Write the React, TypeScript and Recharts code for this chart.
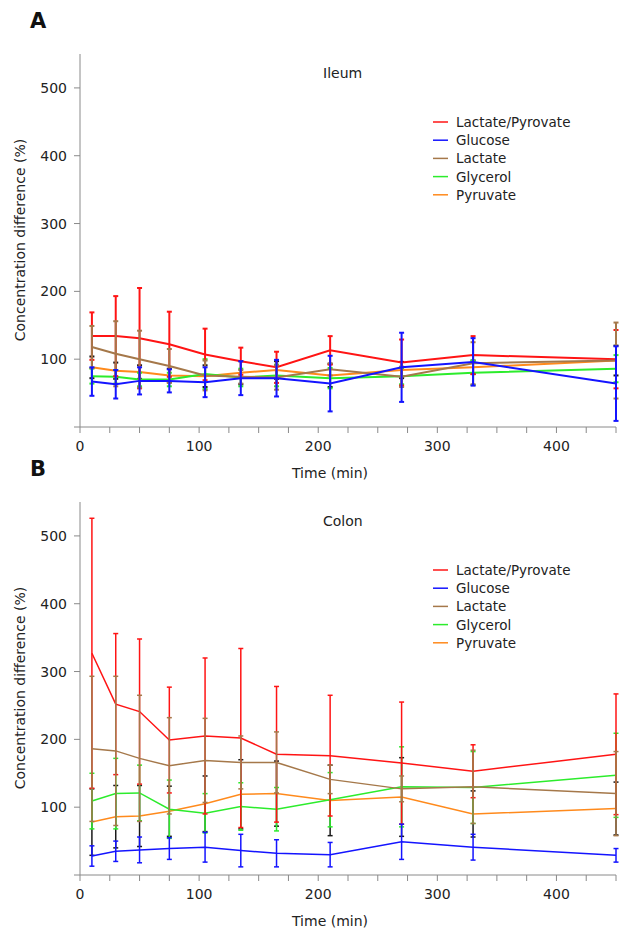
import React from 'react';
import { LineChart, Line, XAxis, YAxis, ErrorBar } from 'recharts';

// ---- data ----
const TIME = [10, 30, 50, 75, 105, 135, 165, 210, 270, 330, 450];

const ILEUM_LP = [134, 134, 131, 122, 107, 97, 88, 113, 95, 106, 100];
const ILEUM_LP_ERR = [35, 59, 74, 48, 38, 20, 23, 21, 34, 28, 43];
const ILEUM_GLC = [67, 63, 68, 68, 66, 72, 72, 64, 88, 96, 64];
const ILEUM_GLC_ERR = [21, 21, 20, 17, 22, 25, 27, 41, 51, 35, 55];
const ILEUM_LAC = [118, 108, 100, 90, 76, 74, 73, 85, 74, 94, 98];
const ILEUM_LAC_ERR = [31, 48, 42, 25, 22, 10, 18, 9, 15, 31, 56];
const ILEUM_GLY = [75, 74, 70, 70, 78, 73, 76, 72, 75, 80, 86];
const ILEUM_GLY_ERR = [11, 10, 10, 10, 22, 13, 16, 15, 12, 18, 20];
const ILEUM_PYR = [88, 83, 81, 76, 75, 80, 84, 76, 84, 88, 98];
const ILEUM_PYR_ERR = [16, 12, 10, 10, 16, 17, 13, 17, 12, 10, 22];

const COLON_LP = [327, 252, 241, 199, 205, 202, 178, 176, 165, 153, 178];
const COLON_LP_ERR = [199, 104, 107, 78, 115, 132, 100, 89, 90, 39, 89];
const COLON_GLC = [28, 35, 37, 39, 41, 36, 32, 30, 49, 41, 29];
const COLON_GLC_ERR = [15, 15, 19, 16, 22, 24, 20, 18, 26, 19, 10];
const COLON_LAC = [186, 183, 172, 161, 169, 166, 166, 141, 127, 130, 120];
const COLON_LAC_ERR = [107, 110, 93, 71, 62, 39, 45, 21, 19, 54, 62];
const COLON_GLY = [109, 120, 121, 97, 91, 101, 97, 111, 130, 129, 147];
const COLON_GLY_ERR = [41, 52, 41, 43, 29, 35, 32, 40, 59, 53, 62];
const COLON_PYR = [78, 86, 87, 94, 105, 119, 120, 110, 115, 90, 98];
const COLON_PYR_ERR = [49, 46, 45, 37, 41, 51, 48, 52, 58, 34, 39];

const X_TICKS = [0, 25, 50, 75, 100, 125, 150, 175, 200, 225, 250, 275, 300, 325, 350, 375, 400, 425, 450];
const X_LABELS = [0, 100, 200, 300, 400];
const Y_TICKS = [0, 100, 200, 300, 400, 500];
const Y_LABELS = [100, 200, 300, 400, 500];

const LEGEND_NAMES = ['Lactate/Pyrovate', 'Glucose', 'Lactate', 'Glycerol', 'Pyruvate'];
const LEGEND_KEYS = ['lp', 'glc', 'lac', 'gly', 'pyr'];
const DRAW_ORDER = ['pyr', 'gly', 'lp', 'lac', 'glc'];

const COLORS: Record<string, string> = {
  lp: '#ff1414',
  glc: '#1414ff',
  lac: '#a5784a',
  gly: '#2cec2c',
  pyr: '#ff8a1c',
};
const ERR_COLORS: Record<string, string> = {
  lp: '#ff1414',
  glc: '#1414ff',
  lac: '#a5784a',
  gly: '#2cec2c',
  pyr: '#1a1a1a',
};

function buildRows(lp: number[], lpE: number[], glc: number[], glcE: number[], lac: number[], lacE: number[], gly: number[], glyE: number[], pyr: number[], pyrE: number[]) {
  return TIME.map((t, i) => ({
    t,
    lp: lp[i], lpErr: lpE[i],
    glc: glc[i], glcErr: glcE[i],
    lac: lac[i], lacErr: lacE[i],
    gly: gly[i], glyErr: glyE[i],
    pyr: pyr[i], pyrErr: pyrE[i],
  }));
}

const ILEUM_ROWS = buildRows(ILEUM_LP, ILEUM_LP_ERR, ILEUM_GLC, ILEUM_GLC_ERR, ILEUM_LAC, ILEUM_LAC_ERR, ILEUM_GLY, ILEUM_GLY_ERR, ILEUM_PYR, ILEUM_PYR_ERR);
const COLON_ROWS = buildRows(COLON_LP, COLON_LP_ERR, COLON_GLC, COLON_GLC_ERR, COLON_LAC, COLON_LAC_ERR, COLON_GLY, COLON_GLY_ERR, COLON_PYR, COLON_PYR_ERR);

const FONT = "'DejaVu Sans', Verdana, sans-serif";
const AXIS = '#8a8a8a';
const TXT = '#222';

function Panel({ rows, top, lw }: { rows: any[]; top: number; lw: number }) {
  return (
    <div style={{ position: 'absolute', left: 0, top, width: 636, height: 470 }}>
      <LineChart width={636} height={470} data={rows} margin={{ top: 54, right: 20, left: 0, bottom: 13 }}>
        <XAxis
          dataKey="t"
          type="number"
          domain={[0, 450]}
          ticks={X_TICKS}
          interval={0}
          tickFormatter={(v: number) => (X_LABELS.includes(v) ? String(v) : '')}
          height={30}
          stroke={AXIS}
          tickSize={6}
          tickMargin={8}
          tick={{ fill: TXT, fontSize: 14, fontFamily: FONT }}
          allowDataOverflow
        />
        <YAxis
          type="number"
          domain={[0, 550]}
          ticks={Y_TICKS}
          interval={0}
          tickFormatter={(v: number) => (Y_LABELS.includes(v) ? String(v) : '')}
          width={80}
          stroke={AXIS}
          tickSize={6}
          tickMargin={7}
          tick={{ fill: TXT, fontSize: 14, fontFamily: FONT }}
          allowDataOverflow
        />
        {DRAW_ORDER.map((k) => (
          <Line
            key={k}
            dataKey={k}
            type="linear"
            stroke={COLORS[k]}
            strokeWidth={lw}
            dot={false}
            activeDot={false}
            isAnimationActive={false}
          >
            <ErrorBar dataKey={k + 'Err'} direction="y" width={2.5} strokeWidth={lw} stroke={ERR_COLORS[k]} isAnimationActive={false} />
          </Line>
        ))}
      </LineChart>
    </div>
  );
}

function Overlay({ top, letter, title }: { top: number; letter: string; title: string }) {
  return (
    <svg width={636} height={480} style={{ position: 'absolute', left: 0, top, pointerEvents: 'none' }}>
      <text x={30} y={28} fontFamily={FONT} fontWeight="bold" fontSize={21} fill="#111">{letter}</text>
      <text x={323} y={78} fontFamily={FONT} fontSize={14} fill={TXT}>{title}</text>
      <text
        x={25}
        y={240}
        transform="rotate(-90 25 240)"
        textAnchor="middle"
        fontFamily={FONT}
        fontSize={14}
        fill={TXT}
      >
        Concentration difference (%)
      </text>
      <text x={292} y={478} fontFamily={FONT} fontSize={14} fill={TXT}>Time (min)</text>
      {LEGEND_NAMES.map((name, i) => {
        const y = 122 + i * 18.2;
        return (
          <g key={name}>
            <line x1={433} x2={448} y1={y} y2={y} stroke={COLORS[LEGEND_KEYS[i]]} strokeWidth={1.5} />
            <text x={456} y={y + 5} fontFamily={FONT} fontSize={13.5} fill={TXT}>{name}</text>
          </g>
        );
      })}
    </svg>
  );
}

export default function App() {
  return (
    <div style={{ position: 'absolute', left: 0, top: 0, width: 636, height: 944, background: '#fff', overflow: 'hidden' }}>
      <Panel rows={ILEUM_ROWS} top={0} lw={2} />
      <Panel rows={COLON_ROWS} top={448} lw={1.5} />
      <Overlay top={0} letter="A" title="Ileum" />
      <Overlay top={448} letter="B" title="Colon" />
    </div>
  );
}
